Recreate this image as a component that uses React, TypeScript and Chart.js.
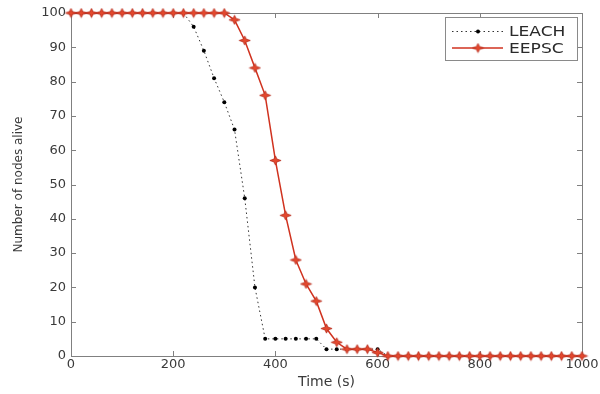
import React, { useEffect, useRef } from "react";
import { Chart, registerables } from "chart.js";

Chart.register(...registerables);

const times = [
  0, 20, 40, 60, 80, 100, 120, 140, 160, 180, 200, 220, 240, 260, 280, 300,
  320, 340, 360, 380, 400, 420, 440, 460, 480, 500, 520, 540, 560, 580, 600,
  620, 640, 660, 680, 700, 720, 740, 760, 780, 800, 820, 840, 860, 880, 900,
  920, 940, 960, 980, 1000,
];

const leach = [
  100, 100, 100, 100, 100, 100, 100, 100, 100, 100, 100, 100, 96, 89, 81, 74,
  66, 46, 20, 5, 5, 5, 5, 5, 5, 2, 2, 2, 2, 2, 2,
  0, 0, 0, 0, 0, 0, 0, 0, 0, 0, 0, 0, 0, 0, 0,
  0, 0, 0, 0, 0,
];

const eepsc = [
  100, 100, 100, 100, 100, 100, 100, 100, 100, 100, 100, 100, 100, 100, 100, 100,
  98, 92, 84, 76, 57, 41, 28, 21, 16, 8, 4, 2, 2, 2, 1,
  0, 0, 0, 0, 0, 0, 0, 0, 0, 0, 0, 0, 0, 0, 0,
  0, 0, 0, 0, 0,
];

const xTicks = [0, 200, 400, 600, 800, 1000];
const yTicks = [0, 10, 20, 30, 40, 50, 60, 70, 80, 90, 100];
const seriesNames = ["LEACH", "EEPSC"];

const RED = "#d0321f";
const AXIS = "#808080";
const TEXT = "#3a3a3a";
const FONT = "'DejaVu Sans', sans-serif";

function makeStar(): HTMLCanvasElement {
  const c = document.createElement("canvas");
  c.width = 13;
  c.height = 11;
  const g = c.getContext("2d")!;
  const cx = 6.5;
  const cy = 5.5;
  g.beginPath();
  g.moveTo(cx, cy - 4.6);
  g.lineTo(cx + 1.5, cy - 1.4);
  g.lineTo(cx + 5.6, cy);
  g.lineTo(cx + 1.5, cy + 1.4);
  g.lineTo(cx, cy + 4.6);
  g.lineTo(cx - 1.5, cy + 1.4);
  g.lineTo(cx - 5.6, cy);
  g.lineTo(cx - 1.5, cy - 1.4);
  g.closePath();
  g.fillStyle = "#e4482e";
  g.fill();
  g.strokeStyle = "#b83020";
  g.lineWidth = 0.8;
  g.stroke();
  return c;
}

const boxPlugin = {
  id: "matlabBox",
  beforeDatasetsDraw(chart: any) {
    const { ctx, chartArea } = chart;
    const { left, right, top, bottom } = chartArea;
    const xs = chart.scales.x;
    const ys = chart.scales.y;
    ctx.save();
    ctx.strokeStyle = AXIS;
    ctx.lineWidth = 1;
    ctx.beginPath();
    ctx.rect(left + 0.5, top + 0.5, right - left, bottom - top);
    ctx.stroke();
    ctx.beginPath();
    const tl = 5;
    xTicks.forEach((v) => {
      const px = Math.round(xs.getPixelForValue(v)) + 0.5;
      ctx.moveTo(px, bottom);
      ctx.lineTo(px, bottom - tl);
      ctx.moveTo(px, top);
      ctx.lineTo(px, top + tl);
    });
    yTicks.forEach((v) => {
      const py = Math.round(ys.getPixelForValue(v)) + 0.5;
      ctx.moveTo(left, py);
      ctx.lineTo(left + tl, py);
      ctx.moveTo(right, py);
      ctx.lineTo(right - tl, py);
    });
    ctx.stroke();
    ctx.restore();
  },
};

function makeLegendPlugin(star: HTMLCanvasElement) {
  return {
    id: "insideLegend",
    afterDraw(chart: any) {
      const { ctx } = chart;
      const bx = 445.5;
      const by = 17.5;
      const bw = 132;
      const bh = 43;
      ctx.save();
      ctx.fillStyle = "#ffffff";
      ctx.fillRect(bx, by, bw, bh);
      ctx.strokeStyle = "#8a8a8a";
      ctx.lineWidth = 1;
      ctx.strokeRect(bx, by, bw, bh);

      const y1 = 31;
      const y2 = 48;
      ctx.strokeStyle = "#333333";
      ctx.setLineDash([1.5, 3]);
      ctx.beginPath();
      ctx.moveTo(452, y1 + 0.5);
      ctx.lineTo(503, y1 + 0.5);
      ctx.stroke();
      ctx.setLineDash([]);
      ctx.fillStyle = "#000000";
      ctx.beginPath();
      ctx.arc(478, y1 + 0.5, 2, 0, Math.PI * 2);
      ctx.fill();
      ctx.strokeStyle = RED;
      ctx.lineWidth = 1.5;
      ctx.beginPath();
      ctx.moveTo(452, y2);
      ctx.lineTo(503, y2);
      ctx.stroke();
      ctx.drawImage(star, 478 - star.width / 2, y2 - star.height / 2);

      ctx.fillStyle = "#2a2a2a";
      ctx.font = `14px ${FONT}`;
      ctx.textBaseline = "middle";
      ctx.textAlign = "left";
      [seriesNames[0], seriesNames[1]].forEach((name, i) => {
        ctx.save();
        ctx.translate(509, i === 0 ? y1 + 1 : y2 + 1);
        ctx.scale(1.22, 1);
        ctx.fillText(name, 0, 0);
        ctx.restore();
      });
      ctx.restore();
    },
  };
}

export default function App() {
  const ref = useRef<HTMLCanvasElement>(null);

  useEffect(() => {
    const star = makeStar();
    const leachData = times.map((t, i) => ({ x: t, y: leach[i] }));
    const eepscData = times.map((t, i) => ({ x: t, y: eepsc[i] }));
    const chart = new Chart(ref.current!, {
      type: "line",
      data: {
        datasets: [
          {
            label: seriesNames[0],
            data: leachData,
            borderColor: "#333333",
            borderWidth: 1,
            borderDash: [1.5, 3],
            pointStyle: "circle",
            pointRadius: 2,
            pointBackgroundColor: "#000000",
            pointBorderWidth: 0,
            order: 2,
            clip: false,
          },
          {
            label: seriesNames[1],
            data: eepscData,
            borderColor: RED,
            borderWidth: 1.5,
            pointStyle: star as any,
            pointRadius: 5,
            order: 1,
            clip: false,
          },
        ],
      },
      options: {
        responsive: false,
        animation: false,
        events: [],
        layout: { padding: { left: 0, right: 18, top: 13, bottom: 0 } },
        plugins: {
          legend: { display: false },
          tooltip: { enabled: false },
        },
        scales: {
          x: {
            type: "linear",
            min: 0,
            max: 1000,
            afterFit: (s: any) => {
              s.height = 38;
            },
            afterBuildTicks: (s: any) => {
              s.ticks = xTicks.map((v) => ({ value: v }));
            },
            grid: { display: false, drawTicks: false },
            border: { display: false },
            ticks: {
              padding: 1,
              color: TEXT,
              font: { family: FONT, size: 13 },
              maxRotation: 0,
              callback: (v: any) => String(v),
            },
            title: {
              display: true,
              text: "Time (s)",
              color: TEXT,
              font: { family: FONT, size: 14 },
              padding: { top: 0, bottom: 3 },
            },
          },
          y: {
            type: "linear",
            min: 0,
            max: 100,
            afterFit: (s: any) => {
              s.width = 71;
            },
            afterBuildTicks: (s: any) => {
              s.ticks = yTicks.map((v) => ({ value: v }));
            },
            grid: { display: false, drawTicks: false },
            border: { display: false },
            ticks: {
              padding: 5,
              color: TEXT,
              font: { family: FONT, size: 13 },
              callback: (v: any) => String(v),
            },
            title: {
              display: true,
              text: "Number of nodes alive",
              color: TEXT,
              font: { family: FONT, size: 12 },
              padding: { top: 12, bottom: 0 },
            },
          },
        },
      },
      plugins: [boxPlugin, makeLegendPlugin(star)],
    });
    return () => chart.destroy();
  }, []);

  return (
    <div
      style={{
        position: "fixed",
        left: 0,
        top: 0,
        width: 600,
        height: 394,
        background: "#ffffff",
      }}
    >
      <canvas ref={ref} width={600} height={394} />
    </div>
  );
}
